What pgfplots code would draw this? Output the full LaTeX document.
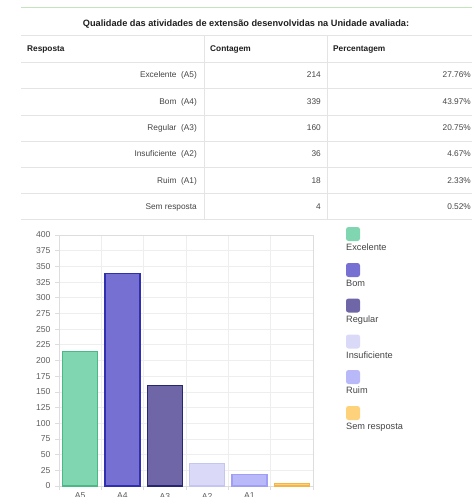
\documentclass[border=0pt]{standalone}
\usepackage{fontspec}
\setmainfont{Liberation Sans}
\usepackage{pgfplots}
\pgfplotsset{compat=1.18}
\definecolor{topgreen}{HTML}{C4E4BE}
\definecolor{tline}{HTML}{E4E4E4}
\definecolor{ttext}{HTML}{444444}
\definecolor{thead}{HTML}{1E1E1E}
\definecolor{gridc}{HTML}{EEEEEE}
\definecolor{axisc}{HTML}{DDDDDD}
\definecolor{labc}{HTML}{5E5E5E}
\definecolor{cA}{HTML}{80D6B1}\definecolor{bA}{HTML}{4CB886}
\definecolor{cB}{HTML}{7670D2}\definecolor{bB}{HTML}{2F2FB0}
\definecolor{cC}{HTML}{6F66A8}\definecolor{bC}{HTML}{262673}
\definecolor{cD}{HTML}{DADAF8}\definecolor{bD}{HTML}{C5C5F2}
\definecolor{cE}{HTML}{B9B9F9}\definecolor{bE}{HTML}{9F9FF5}
\definecolor{cF}{HTML}{FDD27A}\definecolor{bF}{HTML}{F3B44A}
\begin{document}
\begin{tikzpicture}[x=1pt,y=1pt]
\useasboundingbox (0,0) rectangle (472,-497);
\clip (0,0) rectangle (472,-497);
% table
\draw[topgreen, line width=1pt] (21,-8) -- (472,-8);
\node[font=\bfseries\fontsize{9.2}{11}\selectfont, text=thead, inner sep=0] at (246,-24) {Qualidade das atividades de extensão desenvolvidas na Unidade avaliada:};
\foreach \yy in {35,62,88,115,141,167,193,219} \draw[tline, line width=0.8pt] (21,-\yy) -- (472,-\yy);
\draw[tline, line width=0.8pt] (204,-35) -- (204,-219);
\draw[tline, line width=0.8pt] (327,-35) -- (327,-219);
\begin{scope}[every node/.style={inner sep=0, font=\fontsize{8.3}{10}\selectfont}]
\node[anchor=mid west, text=thead] at (27,-49) {\bfseries Resposta};
\node[anchor=mid west, text=thead] at (210,-49) {\bfseries Contagem};
\node[anchor=mid west, text=thead] at (333,-49) {\bfseries Percentagem};
\foreach \yy/\a/\b/\c in {75/{Excelente\ \ (A5)}/214/27.76\%, 101.5/{Bom\ \ (A4)}/339/43.97\%, 128/{Regular\ \ (A3)}/160/20.75\%, 154/{Insuficiente\ \ (A2)}/36/4.67\%, 180.5/{Ruim\ \ (A1)}/18/2.33\%, 206.5/{Sem resposta}/4/0.52\%}{
  \node[anchor=mid east, text=ttext] at (197,-\yy) {\a};
  \node[anchor=mid east, text=ttext] at (321,-\yy) {\b};
  \node[anchor=mid east, text=ttext] at (471,-\yy) {\c};
}
\end{scope}
% chart
\begin{axis}[
  at={(59pt,-486pt)}, anchor=south west, scale only axis,
  width=254pt, height=251pt,
  xmin=-0.5, xmax=5.5, ymin=0, ymax=400,
  ytick={0,25,...,400},
  xtick={0,...,5}, xticklabels={A5,A4,A3,A2,A1,{}},
  minor xtick={-0.5,0.5,...,5.5},
  xminorgrids, ymajorgrids,
  grid style={draw=gridc, line width=0.7pt},
  minor grid style={draw=gridc, line width=0.7pt},
  axis line style={draw=axisc, line width=0.7pt},
  tick style={draw=axisc, line width=0.7pt},
  tick align=outside, xtick pos=bottom, ytick pos=left,
  major tick length=4pt, minor tick length=4pt,
  x tick style={draw=none},
  minor x tick style={draw=axisc},
  ticklabel style={font=\fontsize{8.6}{10}\selectfont, text=labc},
  yticklabel style={xshift=-1pt},
  xticklabel style={yshift=0.5pt},
  /pgf/number format/assume math mode=true,
  ybar, bar width=35pt,
]
\addplot[bar shift=0pt, fill=cA, draw=bA, line width=1.2pt] coordinates {(0,214)};
\addplot[bar shift=0pt, fill=cB, draw=bB, line width=1.2pt] coordinates {(1,339)};
\addplot[bar shift=0pt, fill=cC, draw=bC, line width=1.2pt] coordinates {(2,160)};
\addplot[bar shift=0pt, fill=cD, draw=bD, line width=1.2pt] coordinates {(3,36)};
\addplot[bar shift=0pt, fill=cE, draw=bE, line width=1.2pt] coordinates {(4,18)};
\addplot[bar shift=0pt, fill=cF, draw=bF, line width=1.2pt] coordinates {(5,4)};
\end{axis}
% legend
\foreach \t/\s/\c in {227/Excelente/cA, 263/Bom/cB, 298.5/Regular/cC, 334.5/Insuficiente/cD, 370/Ruim/cE, 406/Sem resposta/cF}{
  \fill[\c, rounded corners=2.5pt] (346,-\t) rectangle (360,-\t-14);
  \node[anchor=mid west, inner sep=0, text=ttext, font=\fontsize{9.2}{10}\selectfont] at (346,-\t-21) {\s};
}
\end{tikzpicture}
\end{document}
